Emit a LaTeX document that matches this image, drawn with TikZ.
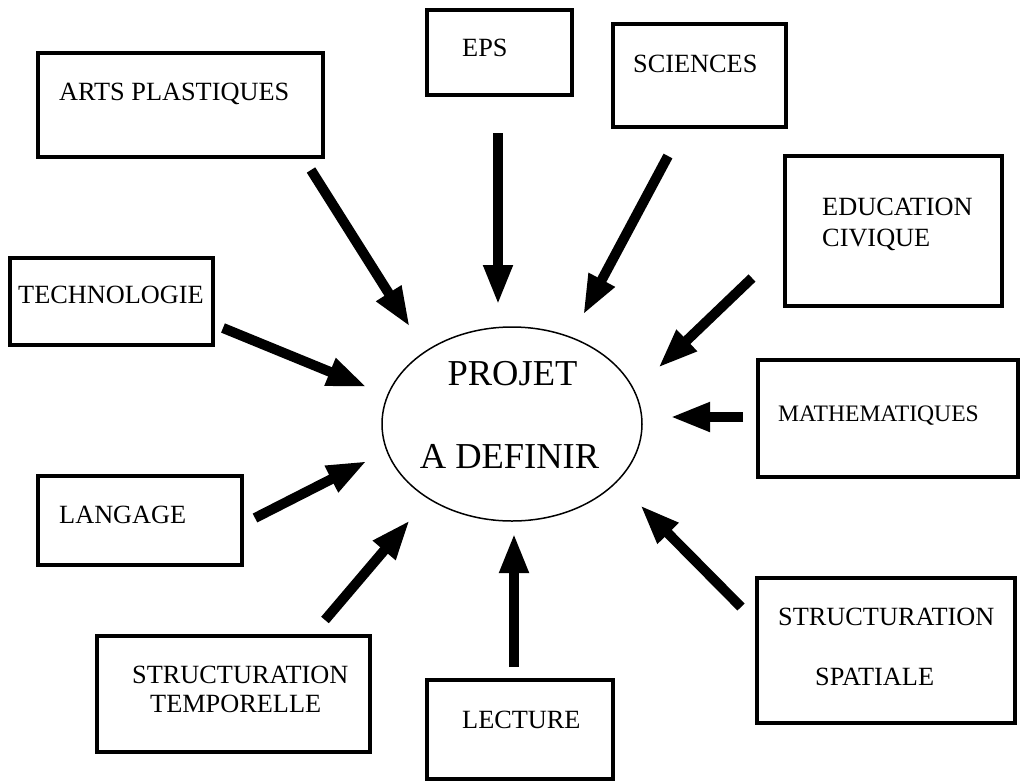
\documentclass[tikz,border=0pt]{standalone}
\usepackage{fontspec}
\setmainfont{Liberation Serif}
\usepackage{tikz}
\usetikzlibrary{arrows.meta, shapes.geometric}

\tikzset{
  matiere/.style={draw, line width=4.5pt, inner sep=0pt},
  libelle/.style={inner sep=0pt, anchor=base west, font=\fontsize{26.3}{30}\selectfont},
  titre/.style={inner sep=0pt, anchor=base, font=\fontsize{36.5}{40}\selectfont},
  fleche/.style={line width=10pt, -{Triangle[length=40pt,width=27pt]}}
}

\begin{document}
\begin{tikzpicture}[x=1pt,y=-1pt]
\useasboundingbox (0,0) rectangle (1020,782);
% le projet au centre
\node[ellipse, draw, line width=1.5pt, inner sep=0pt, minimum width=260pt, minimum height=194pt] (projet) at (512,424) {};
\node[titre] (projet-l1) at (512.5,385) {PROJET};
\node[titre] (projet-l2) at (509.5,468) {A DEFINIR};
% les cadres
\node[matiere, minimum width=285pt, minimum height=104pt] (arts) at (180.5,105) {};
\node[matiere, minimum width=145pt, minimum height=85pt] (eps) at (499.5,52.5) {};
\node[matiere, minimum width=173pt, minimum height=103pt] (sciences) at (699.5,75.5) {};
\node[matiere, minimum width=217pt, minimum height=150pt] (civique) at (893.5,231) {};
\node[matiere, minimum width=203pt, minimum height=87pt] (techno) at (111.5,301.5) {};
\node[matiere, minimum width=260pt, minimum height=117pt] (maths) at (888,418.5) {};
\node[matiere, minimum width=204pt, minimum height=89pt] (langage) at (140,520.5) {};
\node[matiere, minimum width=273pt, minimum height=116pt] (temps) at (233.5,694) {};
\node[matiere, minimum width=186pt, minimum height=99pt] (lecture) at (520,729.5) {};
\node[matiere, minimum width=258pt, minimum height=145pt] (espace) at (886,650.5) {};
% les textes
\node[libelle] (arts-t) at (59,100) {ARTS PLASTIQUES};
\node[libelle] (eps-t) at (462,56) {EPS};
\node[libelle] (sciences-t) at (633,72) {SCIENCES};
\node[libelle] (civique-t1) at (822,215) {EDUCATION};
\node[libelle] (civique-t2) at (822,246) {CIVIQUE};
\node[libelle] (techno-t) at (18,303) {TECHNOLOGIE};
\node[libelle, font=\fontsize{23.6}{28}\selectfont] (maths-t) at (778,421) {MATHEMATIQUES};
\node[libelle] (langage-t) at (59,523) {LANGAGE};
\node[libelle] (temps-t1) at (132,683) {STRUCTURATION};
\node[libelle] (temps-t2) at (150,712) {TEMPORELLE};
\node[libelle] (lecture-t) at (462,728) {LECTURE};
\node[libelle] (espace-t1) at (778,625) {STRUCTURATION};
\node[libelle] (espace-t2) at (815,685) {SPATIALE};
% les fleches
\coordinate (arts-a) at (311,170);
\coordinate (arts-b) at (410,327);
\coordinate (eps-a) at (498,133);
\coordinate (eps-b) at (498,305);
\coordinate (sciences-a) at (668,156);
\coordinate (sciences-b) at (583,315);
\coordinate (civique-a) at (752,278);
\coordinate (civique-b) at (658,368);
\coordinate (maths-a) at (743,417);
\coordinate (maths-b) at (670,417);
\coordinate (espace-a) at (741,607);
\coordinate (espace-b) at (640,505);
\coordinate (lecture-a) at (514,667);
\coordinate (lecture-b) at (514,533);
\coordinate (temps-a) at (325,620);
\coordinate (temps-b) at (410,520);
\coordinate (langage-a) at (255,518);
\coordinate (langage-b) at (367,461);
\coordinate (techno-a) at (223,328);
\coordinate (techno-b) at (367,387);
\draw[fleche] (arts-a)--(arts-b);
\draw[fleche] (eps-a)--(eps-b);
\draw[fleche] (sciences-a)--(sciences-b);
\draw[fleche] (civique-a)--(civique-b);
\draw[fleche] (maths-a)--(maths-b);
\draw[fleche] (espace-a)--(espace-b);
\draw[fleche] (lecture-a)--(lecture-b);
\draw[fleche] (temps-a)--(temps-b);
\draw[fleche] (langage-a)--(langage-b);
\draw[fleche] (techno-a)--(techno-b);
\end{tikzpicture}
\end{document}
